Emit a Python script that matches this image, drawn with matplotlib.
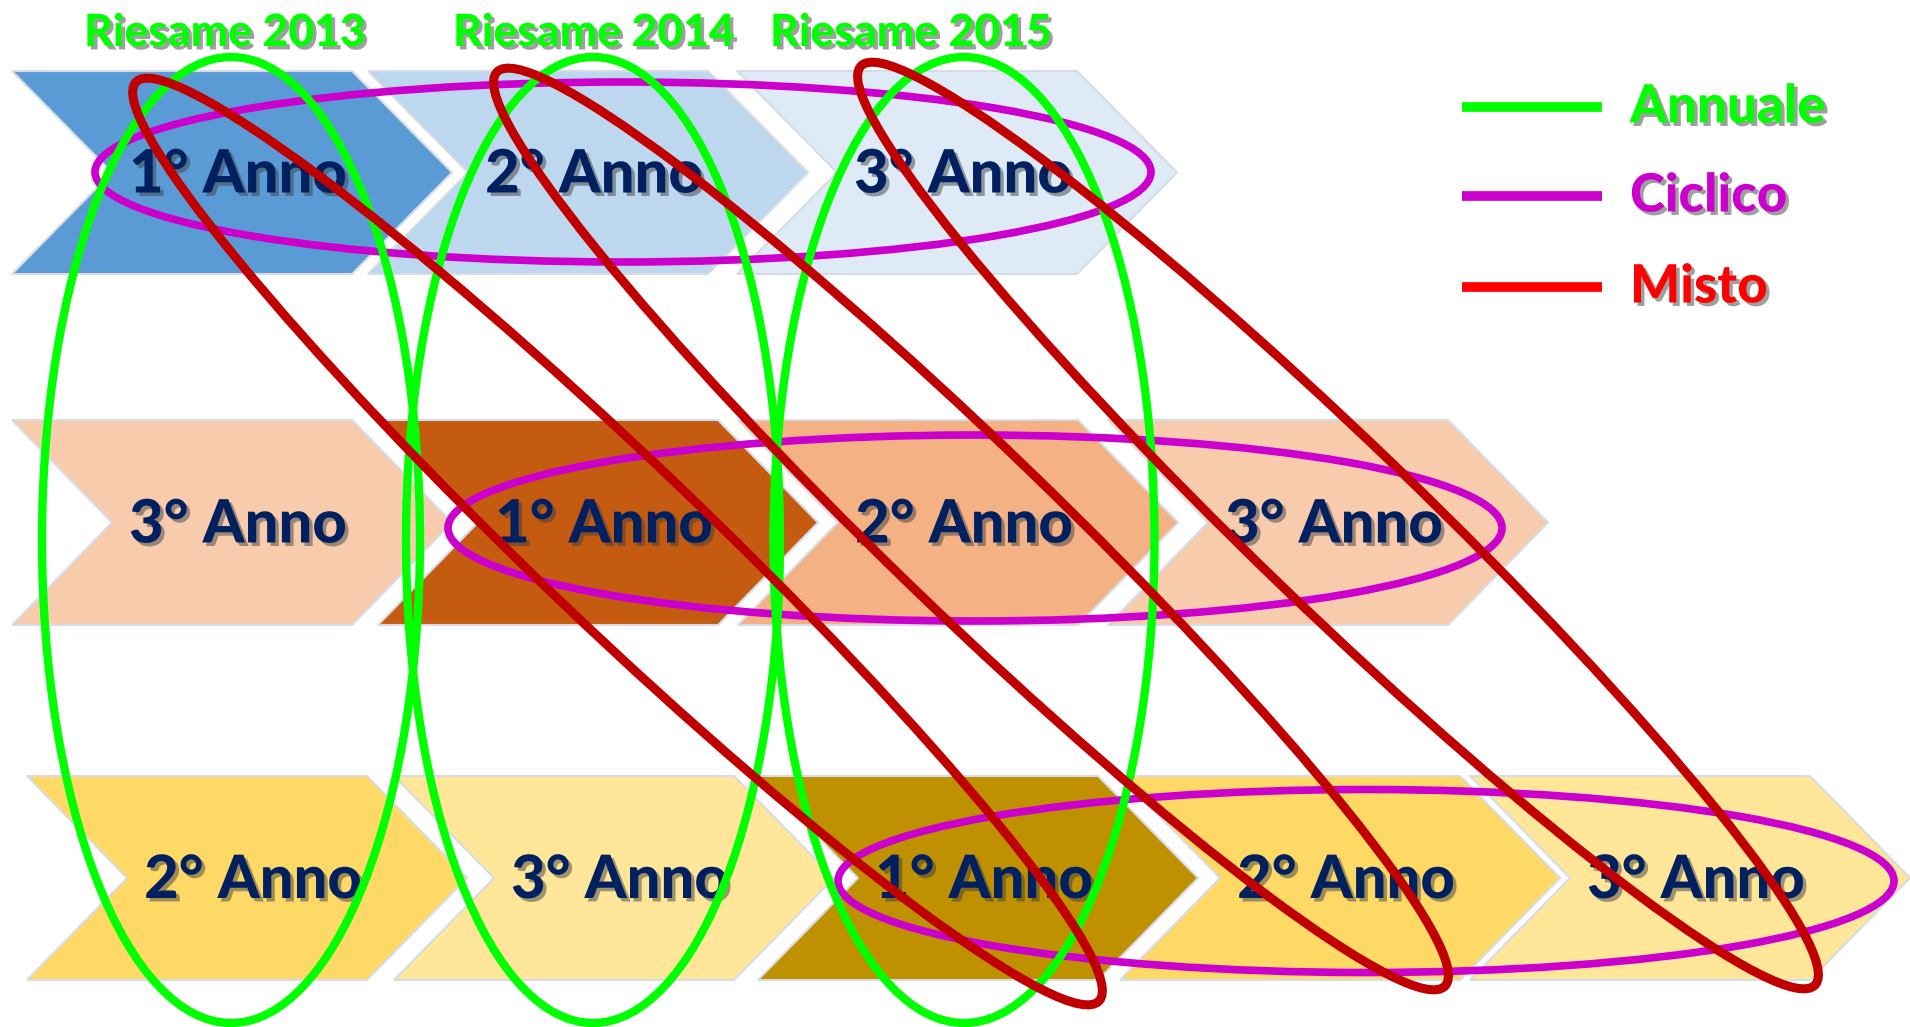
import math
import matplotlib.pyplot as plt
from matplotlib.patches import Polygon, Ellipse
import matplotlib.patheffects as pe

# labels
reviews = ["Riesame 2013", "Riesame 2014", "Riesame 2015"]
row_blue = ["1° Anno", "2° Anno", "3° Anno"]
row_orange = ["3° Anno", "1° Anno", "2° Anno", "3° Anno"]
row_yellow = ["2° Anno", "3° Anno", "1° Anno", "2° Anno", "3° Anno"]
legend_names = ["Annuale", "Ciclico", "Misto"]

# layout (pixel units of the 1910x1027 canvas)
rows = [
    (row_blue, 71, 274, [12, 368, 737],
     ["#5B9BD5", "#BDD7EE", "#DEEBF7"]),
    (row_orange, 420, 625, [12, 378, 738, 1108],
     ["#F8CBAD", "#C55A11", "#F4B183", "#F8CBAD"]),
    (row_yellow, 776, 980, [27, 394, 758, 1120, 1470],
     ["#FFD966", "#FFE699", "#BF9000", "#FFD966", "#FFE699"]),
]
chev_w = 440
chev_d = 100

review_x = [225, 594, 911]
green_ell = [(231, 540, 378, 966), (593, 540, 374, 966), (964, 540, 381, 966)]
magenta_ell = [(623, 172, 1056, 180), (975, 528, 1054, 186), (1366, 881, 1056, 183)]
red_ell = [((136, 82), (1099, 1001)), ((497, 72), (1445, 986)), ((861, 66), (1815, 985))]

GREEN = "#00FF00"
MAGENTA = "#CC00CC"
RED = "#C00000"
NAVY = "#002060"

plt.rcParams['font.family'] = ['Lato', 'DejaVu Sans']

fig = plt.figure(figsize=(19.1, 10.27), dpi=100)
ax = fig.add_axes([0, 0, 1, 1])
ax.set_xlim(0, 1910)
ax.set_ylim(1027, 0)
ax.axis("off")

shadow = [pe.withSimplePatchShadow(offset=(2.5, -2.5), shadow_rgbFace="#404040", alpha=0.5)]

for labels, top, bot, xs, cols in rows:
    mid = (top + bot) / 2
    for lab, x0, c in zip(labels, xs, cols):
        pts = [(x0, top), (x0 + chev_w - chev_d, top), (x0 + chev_w, mid),
               (x0 + chev_w - chev_d, bot), (x0, bot), (x0 + chev_d, mid)]
        ax.add_patch(Polygon(pts, closed=True, fc=c, ec="#D6DCE5", lw=1.5, zorder=1))
        ax.text(x0 + 226, mid + 2, lab, ha="center", va="center", fontsize=43,
                fontweight="black", color=NAVY, path_effects=shadow, zorder=2)

for t, x in zip(reviews, review_x):
    ax.text(x, 33, t, ha="center", va="center", fontsize=32, fontweight="black",
            color=GREEN, path_effects=shadow, zorder=5)

for cx, cy, w, h in magenta_ell:
    ax.add_patch(Ellipse((cx, cy), w, h, fill=False, ec=MAGENTA, lw=5.5, zorder=3))
for cx, cy, w, h in green_ell:
    ax.add_patch(Ellipse((cx, cy), w, h, fill=False, ec=GREEN, lw=6, zorder=3))
for (x1, y1), (x2, y2) in red_ell:
    dx, dy = x2 - x1, y2 - y1
    length = (dx ** 2 + dy ** 2) ** 0.5
    ang = math.degrees(math.atan2(dy, dx))
    ax.add_patch(Ellipse(((x1 + x2) / 2, (y1 + y2) / 2), length, 165, angle=ang,
                         fill=False, ec=RED, lw=6.5, zorder=4))

leg_cols = [GREEN, MAGENTA, "#FF0000"]
leg_y = [107, 196, 287]
for name, c, y in zip(legend_names, leg_cols, leg_y):
    ax.plot([1462, 1602], [y, y], color=c, lw=7, solid_capstyle="butt", zorder=5)
    ax.text(1630, y, name, ha="left", va="center", fontsize=38, fontweight="black",
            color=c, path_effects=shadow, zorder=5)

fig.savefig("out.png", dpi=100)
